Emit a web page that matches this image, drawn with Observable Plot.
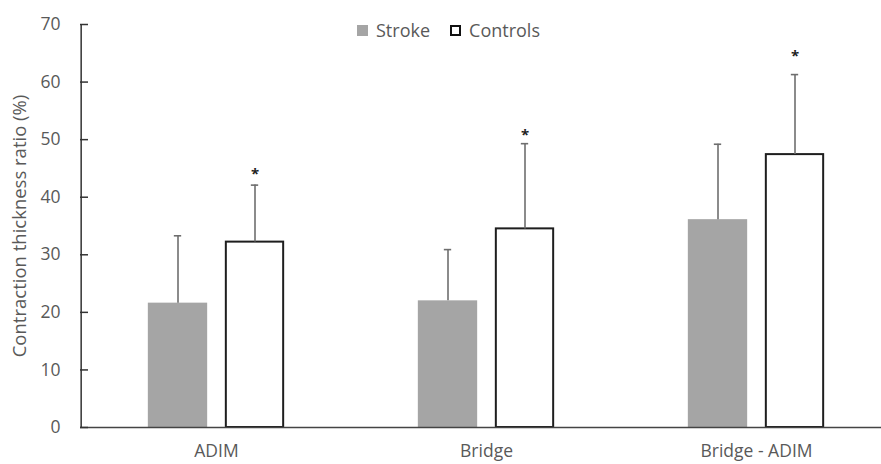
<!DOCTYPE html>
<html>
<head>
<meta charset="utf-8">
<script src="https://cdn.jsdelivr.net/npm/d3@7"></script>
<script src="https://cdn.jsdelivr.net/npm/@observablehq/plot@0.6"></script>
<style>
  body { margin: 0; background: #fff; }
  #wrap { position: relative; width: 881px; height: 464px; font-family: "Open Sans", "Liberation Sans", sans-serif; }
  #legend { position: absolute; top: 18px; left: 357px; display: flex; align-items: center; font-size: 18px; color: #595959; line-height: 24px; }
  .sw { display: inline-block; width: 11px; height: 11px; margin-right: 8px; box-sizing: border-box; }
  .item { display: flex; align-items: center; margin-right: 20px; }
</style>
</head>
<body>
<div id="wrap"><div id="legend"></div></div>
<script>
const categories = ["ADIM", "Bridge", "Bridge - ADIM"];
const series = ["Stroke", "Controls"];
const strokeMeans = [21.6, 22.0, 36.1];
const strokeErrTops = [33.3, 30.9, 49.2];
const controlsMeans = [32.2, 34.5, 47.4];
const controlsErrTops = [42.1, 49.3, 61.3];
const starLevels = [44.4, 51.1, 64.8]; // asterisks above Controls
const yTicks = [0, 10, 20, 30, 40, 50, 60, 70];

const stroke = categories.map((c, i) => ({cat: c, series: series[0], mean: strokeMeans[i], top: strokeErrTops[i]}));
const controls = categories.map((c, i) => ({cat: c, series: series[1], mean: controlsMeans[i], top: controlsErrTops[i], star: starLevels[i]}));

const bandW = (892 - 80) / 3;
const barW = 60, off = 38.5, capW = 8;
const barInset = (bandW - barW) / 2;
const capInset = (bandW - capW) / 2;
const errColor = "#6e6e6e";

const chart = Plot.plot({
  width: 881,
  height: 464,
  marginTop: 24,
  marginBottom: 37,
  marginLeft: 80,
  marginRight: 0,
  style: {fontFamily: "'Open Sans', 'Liberation Sans', sans-serif", background: "transparent"},
  x: {domain: categories, range: [80, 892], padding: 0, label: null},
  y: {domain: [0, 70], label: null},
  marks: [
    Plot.barY(stroke, {x: "cat", y: "mean", dx: -off, insetLeft: barInset, insetRight: barInset, fill: "#a5a5a5"}),
    Plot.barY(controls, {x: "cat", y: "mean", dx: off, insetLeft: barInset + 1, insetRight: barInset + 1, fill: "#fff", stroke: "#1e1e1e", strokeWidth: 2}),
    Plot.ruleX(stroke, {x: "cat", y1: "mean", y2: "top", dx: -off, stroke: errColor, strokeWidth: 1.6}),
    Plot.ruleX(controls, {x: "cat", y1: "mean", y2: "top", dx: off, stroke: errColor, strokeWidth: 1.6}),
    Plot.tickY(stroke, {x: "cat", y: "top", dx: -off, insetLeft: capInset, insetRight: capInset, stroke: errColor, strokeWidth: 1.6}),
    Plot.tickY(controls, {x: "cat", y: "top", dx: off, insetLeft: capInset, insetRight: capInset, stroke: errColor, strokeWidth: 1.6}),
    Plot.text(controls, {x: "cat", y: "star", dx: off, dy: 2, text: () => "*", fontSize: 15, fontWeight: "bold", fill: "#222"}),
    Plot.ruleY([0], {stroke: "#444", strokeWidth: 1.5}),
    Plot.axisY({ticks: yTicks, tickSize: 0, tickPadding: 20, fontSize: 17.5, fill: "#595959", label: null}),
    Plot.tickY(yTicks, {y: d => d, insetRight: 881 - 80 - 8, stroke: "#333", strokeWidth: 1.5}),
    Plot.axisX({tickSize: 0, tickPadding: 17, fontSize: 17.5, fill: "#595959", label: null}),
    Plot.ruleX([0], {x: () => categories[0], y1: 0, y2: 70, dx: -bandW / 2, stroke: "#333", strokeWidth: 1.5}),
    Plot.text(["Contraction thickness ratio (%)"], {frameAnchor: "left", textAnchor: "middle", dx: -60, dy: 0, rotate: -90, fontSize: 18.5, fill: "#595959"})
  ]
});
document.getElementById("wrap").prepend(chart);
chart.style.position = "absolute";
chart.style.left = "0";
chart.style.top = "0";

const legend = document.getElementById("legend");
legend.style.zIndex = 2;
[["Stroke", "background:#a5a5a5;"], ["Controls", "background:#fff;border:2px solid #111;"]].forEach(([name, css]) => {
  const it = document.createElement("div");
  it.className = "item";
  it.innerHTML = `<span class="sw" style="${css}"></span><span>${name}</span>`;
  legend.appendChild(it);
});
</script>
</body>
</html>
